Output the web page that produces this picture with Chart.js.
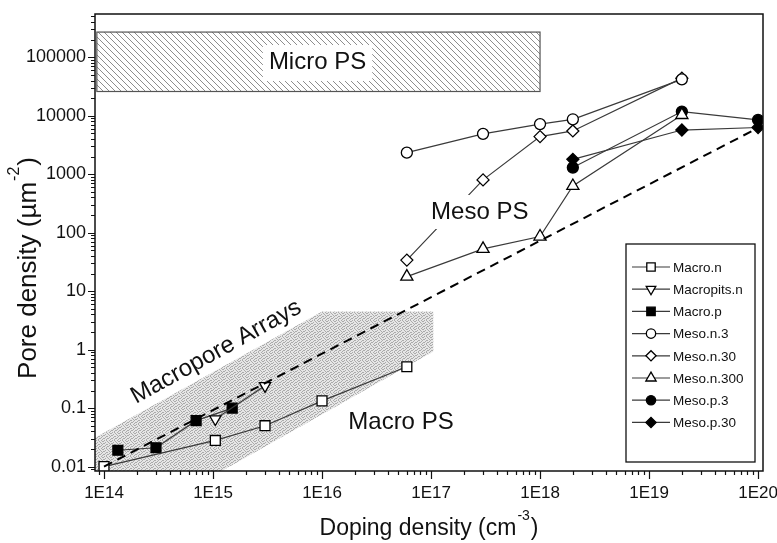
<!DOCTYPE html>
<html><head><meta charset="utf-8">
<script src="https://cdn.jsdelivr.net/npm/chart.js@4.4.0/dist/chart.umd.min.js"></script>
<style>html,body{margin:0;padding:0;background:#fff}#wrap{width:777px;height:543px}</style>
</head><body><div id="wrap"><canvas id="c" width="777" height="543"></canvas></div>
<script>
// ---- data ----
const seriesNames = ['Macro.n','Macropits.n','Macro.p','Meso.n.3','Meso.n.30','Meso.n.300','Meso.p.3','Meso.p.30'];
const macroN_x = [1e14, 1.05e15, 3e15, 1e16, 6e16];
const macroN_y = [0.01, 0.028, 0.05, 0.133, 0.51];
const macropitsN_x = [1.05e15, 3e15];
const macropitsN_y = [0.065, 0.24];
const macroP_x = [1.34e14, 3e14, 7e14, 1.5e15];
const macroP_y = [0.019, 0.021, 0.061, 0.1];
const mesoN_x = [6e16, 3e17, 1e18, 2e18, 2e19];
const mesoN3_y = [2340, 4900, 7200, 8700, 42000];
const mesoN30_y = [34, 800, 4400, 5500, 44000];
const mesoN300_y = [17.7, 53, 86, 630, 10300];
const mesoP_x = [2e18, 2e19, 1e20];
const mesoP3_y = [1300, 11800, 8500];
const mesoP30_y = [1800, 5700, 6300];
const trend_x = [1e14, 1e20];
const trend_y = [0.01, 6200];
// shaded regions (data coordinates)
const microBox_x = [8.6e13, 1e18];
const microBox_y = [2.6e4, 2.7e5];
const macroBand_x = [8e13, 1e16, 1.05e17, 1.05e17, 1.15e15, 8e13];
const macroBand_y = [0.03, 4.5, 4.5, 0.93, 0.008, 0.008];
// tick labels
const xTickValues = [1e14, 1e15, 1e16, 1e17, 1e18, 1e19, 1e20];
const xTickLabels = ['1E14','1E15','1E16','1E17','1E18','1E19','1E20'];
const yTickValues = [0.01, 0.1, 1, 10, 100, 1000, 10000, 100000];
const yTickLabels = ['0.01','0.1','1','10','100','1000','10000','100000'];
// annotations
const annTexts = ['Micro PS','Meso PS','Macro PS','Macropore Arrays'];
const annX = [9.1e15, 2.8e17, 5.3e16, 1.07e15];
const annY = [8.3e4, 226, 0.058, 0.91];

const FONT = "'Liberation Sans', Arial, Helvetica, sans-serif";
const pts = (xs, ys) => xs.map((x, i) => ({x, y: ys[i]}));
const LINE = '#3a3a3a';

function ds(label, xs, ys, style, fill, radius, rot) {
  return {
    label, data: pts(xs, ys),
    borderColor: LINE, borderWidth: 1.2,
    pointStyle: style, pointRotation: rot || 0, pointRadius: radius,
    pointBackgroundColor: fill, pointBorderColor: '#000', pointBorderWidth: 1.3,
    pointHoverRadius: radius, tension: 0, fill: false
  };
}
const datasets = [
  ds(seriesNames[0], macroN_x, macroN_y, 'rect', '#fff', 7),
  ds(seriesNames[1], macropitsN_x, macropitsN_y, 'triangle', '#fff', 6.5, 180),
  ds(seriesNames[2], macroP_x, macroP_y, 'rect', '#000', 7),
  ds(seriesNames[3], mesoN_x, mesoN3_y, 'circle', '#fff', 5.5),
  ds(seriesNames[4], mesoN_x, mesoN30_y, 'rectRot', '#fff', 6),
  ds(seriesNames[5], mesoN_x, mesoN300_y, 'triangle', '#fff', 7),
  ds(seriesNames[6], mesoP_x, mesoP3_y, 'circle', '#000', 5.5),
  ds(seriesNames[7], mesoP_x, mesoP30_y, 'rectRot', '#000', 6),
  { label: '', isTrend: true, data: pts(trend_x, trend_y), borderColor: '#000', borderWidth: 2,
    borderDash: [9, 6], pointRadius: 0, pointHoverRadius: 0, fill: false }
];
datasets.unshift(datasets.pop());

function allLogTicks(lo, hi) {
  const t = [];
  for (let e = -3; e <= 21; e++) for (let m = 1; m <= 9; m++) {
    const v = m * Math.pow(10, e);
    if (v >= lo * 0.9999 && v <= hi * 1.0001) t.push({value: v, major: m === 1});
  }
  return t;
}
function labelFor(v, vals, labs) {
  for (let i = 0; i < vals.length; i++) if (Math.abs(v / vals[i] - 1) < 1e-6) return labs[i];
  return '';
}

const STIPPLE = ['10100100','00010011','01001000','10000101','00110010','01000100','10011001','00100010'];
function makeDotPattern(ctx) {
  const c = document.createElement('canvas'); c.width = 8; c.height = 8;
  const g = c.getContext('2d');
  g.fillStyle = '#e6e6e6'; g.fillRect(0, 0, 8, 8);
  g.fillStyle = '#ababab';
  STIPPLE.forEach((row, j) => { for (let i = 0; i < 8; i++) if (row[i] === '1') g.fillRect(i, j, 1, 1); });
  return ctx.createPattern(c, 'repeat');
}
function makeHatchPattern(ctx) {
  const s = 6;
  const c = document.createElement('canvas'); c.width = s; c.height = s;
  const g = c.getContext('2d');
  g.fillStyle = '#fff'; g.fillRect(0, 0, s, s);
  g.strokeStyle = '#808080'; g.lineWidth = 0.9;
  g.beginPath();
  g.moveTo(-1, -1); g.lineTo(s + 1, s + 1);
  g.moveTo(-1, s - 1); g.lineTo(1, s + 1);
  g.moveTo(s - 1, -1); g.lineTo(s + 1, 1);
  g.stroke();
  return ctx.createPattern(c, 'repeat');
}

const regionsPlugin = {
  id: 'regions',
  beforeDatasetsDraw(chart) {
    const {ctx, chartArea: a, scales: {x, y}} = chart;
    ctx.save();
    ctx.beginPath(); ctx.rect(a.left, a.top, a.right - a.left, a.bottom - a.top); ctx.clip();
    ctx.beginPath();
    macroBand_x.forEach((vx, i) => {
      const px = x.getPixelForValue(vx), py = y.getPixelForValue(macroBand_y[i]);
      if (i === 0) ctx.moveTo(px, py); else ctx.lineTo(px, py);
    });
    ctx.closePath();
    ctx.fillStyle = makeDotPattern(ctx); ctx.fill();
    const x0 = x.getPixelForValue(microBox_x[0]), x1 = x.getPixelForValue(microBox_x[1]);
    const y0 = y.getPixelForValue(microBox_y[1]), y1 = y.getPixelForValue(microBox_y[0]);
    ctx.fillStyle = makeHatchPattern(ctx);
    ctx.fillRect(x0, y0, x1 - x0, y1 - y0);
    ctx.strokeStyle = '#555'; ctx.lineWidth = 1.2;
    ctx.strokeRect(x0, y0, x1 - x0, y1 - y0);
    ctx.restore();
  },
  afterDatasetsDraw(chart) {
    const {ctx, scales: {x, y}} = chart;
    ctx.save();
    ctx.fillStyle = '#111';
    ctx.textAlign = 'center'; ctx.textBaseline = 'middle';
    ctx.font = '24px ' + FONT;
    let px = x.getPixelForValue(annX[0]), py = y.getPixelForValue(annY[0]);
    let w = ctx.measureText(annTexts[0]).width;
    ctx.fillStyle = '#fff'; ctx.fillRect(px - w / 2 - 6, py - 17, w + 12, 36);
    ctx.fillStyle = '#111'; ctx.fillText(annTexts[0], px, py);
    px = x.getPixelForValue(annX[1]); py = y.getPixelForValue(annY[1]);
    w = ctx.measureText(annTexts[1]).width;
    ctx.fillStyle = '#fff'; ctx.fillRect(px - w / 2 - 6, py - 17, w + 12, 34);
    ctx.fillStyle = '#111'; ctx.fillText(annTexts[1], px, py);
    px = x.getPixelForValue(annX[2]); py = y.getPixelForValue(annY[2]);
    ctx.fillText(annTexts[2], px, py);
    px = x.getPixelForValue(annX[3]); py = y.getPixelForValue(annY[3]);
    ctx.translate(px, py); ctx.rotate(-29 * Math.PI / 180);
    ctx.fillText(annTexts[3], 0, 0);
    ctx.restore();
  },
  afterDraw(chart) {
    const {ctx, chartArea: a, scales: {x, y}} = chart;
    ctx.save();
    ctx.strokeStyle = '#111'; ctx.lineWidth = 1.5;
    ctx.strokeRect(a.left, a.top, a.right - a.left, a.bottom - a.top);
    ctx.lineWidth = 1.2; ctx.beginPath();
    x.ticks.forEach(t => {
      const p = Math.round(x.getPixelForValue(t.value)) + 0.5;
      const L = t.major ? 8 : 4;
      ctx.moveTo(p, a.bottom); ctx.lineTo(p, a.bottom + L);
    });
    y.ticks.forEach(t => {
      const p = Math.round(y.getPixelForValue(t.value)) + 0.5;
      const L = t.major ? 7 : 4;
      ctx.moveTo(a.left, p); ctx.lineTo(a.left - L, p);
    });
    ctx.stroke();
    ctx.fillStyle = '#111'; ctx.textBaseline = 'alphabetic'; ctx.textAlign = 'left';
    const drawTitle = (main, sup, tail, size) => {
      ctx.font = size + 'px ' + FONT;
      const w1 = ctx.measureText(main).width;
      ctx.font = Math.round(size * 0.6) + 'px ' + FONT;
      const w2 = ctx.measureText(sup).width;
      ctx.font = size + 'px ' + FONT;
      const w3 = ctx.measureText(tail).width;
      const tot = w1 + w2 + w3 + 2;
      let cx = -tot / 2;
      ctx.fillText(main, cx, size * 0.36); cx += w1 + 1;
      ctx.font = Math.round(size * 0.6) + 'px ' + FONT;
      ctx.fillText(sup, cx, -size * 0.32); cx += w2 + 1;
      ctx.font = size + 'px ' + FONT;
      ctx.fillText(tail, cx, size * 0.36);
    };
    ctx.save();
    ctx.translate((a.left + a.right) / 2, 527);
    drawTitle('Doping density (cm', '-3', ')', 23);
    ctx.restore();
    ctx.save();
    ctx.translate(27, 268); ctx.rotate(-Math.PI / 2);
    drawTitle('Pore density (\u00b5m', '-2', ')', 26);
    ctx.restore();
    const L = {left: 626, top: 244, right: 755, bottom: 462};
    ctx.lineWidth = 1.3; ctx.strokeStyle = '#111';
    ctx.strokeRect(L.left, L.top, L.right - L.left, L.bottom - L.top);
    ctx.font = '13.5px ' + FONT; ctx.textBaseline = 'middle';
    let row = 0;
    chart.data.datasets.forEach(d => {
      if (d.isTrend) return;
      const yy = 267 + row * 22.2; row++;
      ctx.strokeStyle = LINE; ctx.lineWidth = 1.2;
      ctx.beginPath(); ctx.moveTo(632, yy); ctx.lineTo(670, yy); ctx.stroke();
      ctx.fillStyle = d.pointBackgroundColor; ctx.strokeStyle = '#000'; ctx.lineWidth = 1.3;
      Chart.helpers.drawPoint(ctx, {pointStyle: d.pointStyle, rotation: d.pointRotation, radius: d.pointRadius * 0.85, borderWidth: 1.3}, 651, yy);
      ctx.fillStyle = '#111';
      ctx.fillText(d.label, 673, yy + 1);
    });
    ctx.restore();
  }
};

new Chart(document.getElementById('c'), {
  type: 'line',
  data: {datasets},
  plugins: [regionsPlugin],
  options: {
    responsive: false, animation: false, devicePixelRatio: 1,
    layout: {padding: {top: 14, right: 14, left: 0, bottom: 0}},
    plugins: {legend: {display: false}, tooltip: {enabled: false}},
    scales: {
      x: {
        type: 'logarithmic', min: 8.27e13, max: 1.11e20,
        afterBuildTicks: s => { s.ticks = allLogTicks(s.min, s.max); },
        afterFit: s => { s.height = 72; s.paddingLeft = 0; s.paddingRight = 0; },
        grid: {display: true, drawOnChartArea: false, drawTicks: false},
        border: {display: false},
        ticks: {autoSkip: false, maxRotation: 0, minRotation: 0, padding: 12, color: '#111',
          font: {family: FONT, size: 17},
          callback: v => labelFor(v, xTickValues, xTickLabels)}
      },
      y: {
        type: 'logarithmic', min: 0.0084, max: 5.5e5,
        afterBuildTicks: s => { s.ticks = allLogTicks(s.min, s.max); },
        afterFit: s => { s.width = 95; s.paddingTop = 0; s.paddingBottom = 0; },
        grid: {display: true, drawOnChartArea: false, drawTicks: false},
        border: {display: false},
        ticks: {autoSkip: false, padding: 9, color: '#111',
          font: {family: FONT, size: 18},
          callback: v => labelFor(v, yTickValues, yTickLabels)}
      }
    }
  }
});
</script></body></html>
